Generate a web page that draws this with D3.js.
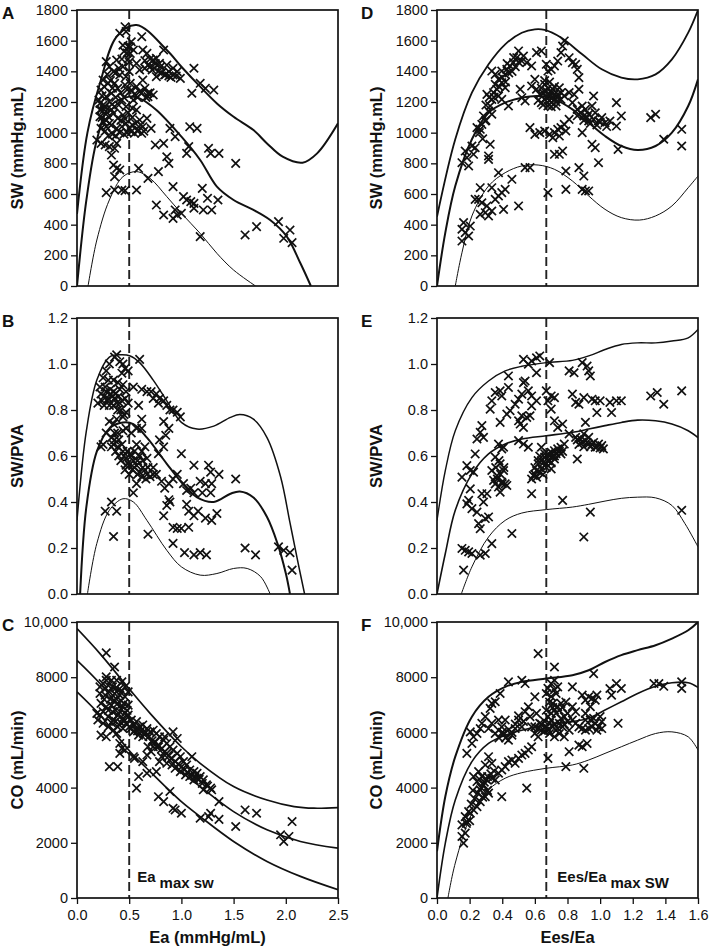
<!DOCTYPE html>
<html><head><meta charset="utf-8">
<script src="https://cdn.jsdelivr.net/npm/d3@7"></script>
<style>body{margin:0;background:#fff}text{font-family:"Liberation Sans",Arial,sans-serif;fill:#111}</style>
</head><body><svg id="c" width="709" height="950"></svg>
<script>
// ---------------- DATA ----------------
const panelIds = ["A","B","C","D","E","F"];
const yTitles = {A:"SW (mmHg.mL)",B:"SW/PVA",C:"CO (mL/min)",D:"SW (mmHg.mL)",E:"SW/PVA",F:"CO (mL/min)"};
const xTitleLeft = "Ea (mmHg/mL)";
const xTitleRight = "Ees/Ea";
const eaTicks = [0,0.5,1.0,1.5,2.0,2.5];
const eaTickLabels = ["0.0","0.5","1.0","1.5","2.0","2.5"];
const ratioTicks = [0,0.2,0.4,0.6,0.8,1.0,1.2,1.4,1.6];
const ratioTickLabels = ["0.0","0.2","0.4","0.6","0.8","1.0","1.2","1.4","1.6"];
const swTicks = [0,200,400,600,800,1000,1200,1400,1600,1800];
const swTickLabels = ["0","200","400","600","800","1000","1200","1400","1600","1800"];
const pvaTicks = [0,0.2,0.4,0.6,0.8,1.0,1.2];
const pvaTickLabels = ["0.0","0.2","0.4","0.6","0.8","1.0","1.2"];
const coTicks = [0,2000,4000,6000,8000,10000];
const coTickLabels = ["0","2000","4000","6000","8000","10,000"];
const eaMaxSW = 0.5;
const ratioMaxSW = 0.67;
const annLeft = ["Ea","max sw"];
const annRight = ["Ees/Ea","max SW"];

// Panel A: Ea vs SW
const A_pts = [[0.46,1691],[0.41,1648],[0.47,1659],[0.62,1626],[0.52,1593],[0.49,1561],[0.51,1517],[0.54,1539],[0.63,1539],[0.67,1517],[0.83,1539],[0.76,1485],[0.73,1474],[0.79,1452],[0.86,1441],[0.92,1420],[0.88,1398],[0.96,1398],[0.84,1376],[0.99,1354],[1.12,1420],[1.18,1322],[1.23,1289],[1.31,1278],[1.10,1257],[0.68,1441],[0.72,1409],[0.92,1376],[0.57,1452],[0.60,1409],[0.65,1420],[0.76,1365],
[0.28,1463],[0.31,1430],[0.38,1474],[0.35,1398],[0.25,1343],[0.30,1322],[0.36,1322],[0.41,1376],[0.44,1430],[0.23,1278],[0.28,1235],[0.33,1257],[0.39,1289],[0.46,1311],[0.22,1191],[0.27,1170],[0.31,1202],[0.36,1170],[0.43,1213],[0.47,1170],[0.22,1104],[0.25,1072],[0.30,1104],[0.35,1126],[0.39,1093],[0.44,1115],[0.23,1028],[0.28,1039],[0.33,1050],[0.38,1028],[0.43,1039],[0.47,1061],[0.52,1007],[0.55,996],[0.59,1017],[0.62,996],[0.63,1039],[0.53,1050],[0.67,1093],[0.71,1028],[0.60,1083],[0.57,1148],[0.54,1213],[0.52,1278],[0.57,1300],[0.60,1267],[0.65,1289],[0.68,1257],[0.73,1246],[0.63,1343],[0.68,1235],[0.51,1322],[0.47,1365],[0.22,1148],[0.21,1213],[0.19,952],
[0.24,1240],[0.26,1300],[0.29,1380],[0.32,1340],[0.34,1290],[0.37,1230],[0.40,1180],[0.42,1260],[0.45,1230],[0.48,1280],[0.50,1400],[0.49,1480],[0.45,1530],[0.43,1480],[0.40,1420],[0.37,1390],[0.33,1150],[0.29,1130],[0.26,1150],[0.24,1100],[0.27,1010],[0.30,980],[0.34,990],[0.37,980],[0.41,1000],[0.45,990],[0.48,1000],[0.50,1030],[0.53,1100],[0.56,1060],[0.58,1010],[0.61,1050],[0.64,1010],[0.55,1250],[0.58,1230],[0.62,1260],[0.66,1230],[0.70,1260],[0.53,1160],[0.49,1130],[0.46,1090],[0.42,1080],[0.31,1060],[0.28,1080],[0.25,1180],[0.23,1150],[0.51,1560],[0.48,1520],[0.44,1570],[0.50,1460],
[0.70,1430],[0.74,1420],[0.78,1400],[0.81,1390],[0.85,1380],[0.88,1370],[0.90,1360],[0.95,1370],[0.80,1430],[0.75,1450],[0.70,1480],[0.65,1470],
[0.27,920],[0.23,930],[0.31,909],[0.36,898],[0.38,930],[0.33,854],[0.35,789],[0.38,767],[0.36,713],[0.41,757],[0.28,609],[0.36,626],[0.43,626],[0.46,622],[0.57,626],[0.59,767],[0.68,702],[0.78,746],[0.75,920],[0.83,930],[0.86,843],[0.88,800],[0.89,1028],[0.94,974],[1.08,1039],[1.15,1028],[1.05,865],[1.07,909],[1.26,898],[1.28,865],[1.36,865],[1.52,800],
[0.92,648],[1.02,583],[1.05,561],[1.09,550],[1.12,539],[1.20,637],[1.25,572],[1.35,561],[1.21,496],[1.29,496],[1.12,507],[0.76,528],[0.83,463],[0.94,496],[0.96,463],[1.00,474],[0.92,441],[1.18,322],[1.61,333],[1.72,387],[1.93,420],[2.04,365],[1.98,311],[2.06,283]];
const A_upper = [[0,470],[0.1,1000],[0.22,1322],[0.38,1626],[0.57,1702],[0.86,1539],[1.0,1430],[1.18,1300],[1.34,1191],[1.5,1104],[1.69,1017],[1.82,930],[1.97,843],[2.16,804],[2.3,865],[2.5,1061]];
const A_mid = [[0,0],[0.09,561],[0.19,952],[0.31,1170],[0.5,1235],[0.6,1224],[0.76,1148],[1.0,974],[1.18,822],[1.34,648],[1.5,561],[1.69,496],[1.85,430],[2.01,322],[2.14,148],[2.24,0]];
const A_low = [[0.106,0],[0.19,300],[0.31,561],[0.44,713],[0.57,746],[0.7,702],[0.86,583],[1.0,474],[1.18,343],[1.34,213],[1.5,104],[1.71,0]];

// Panel B: Ea vs SW/PVA
const B_pts = [[0.38,1.04],[0.36,1.03],[0.41,1.01],[0.44,1.0],[0.46,0.98],[0.49,0.97],[0.43,0.96],[0.60,1.02],[0.31,1.0],[0.28,0.97],
[0.25,0.94],[0.30,0.93],[0.35,0.93],[0.39,0.92],[0.44,0.91],[0.22,0.90],[0.28,0.88],[0.35,0.88],[0.41,0.89],[0.47,0.88],[0.24,0.84],[0.30,0.85],[0.36,0.85],[0.41,0.83],[0.46,0.85],[0.20,0.83],[0.35,0.82],[0.39,0.80],[0.49,0.83],
[0.23,0.87],[0.26,0.86],[0.29,0.84],[0.32,0.87],[0.34,0.86],[0.37,0.87],[0.40,0.86],[0.43,0.84],[0.26,0.82],[0.31,0.82],[0.38,0.83],[0.42,0.80],[0.45,0.78],[0.32,0.89],[0.27,0.90],
[0.54,0.90],[0.62,0.89],[0.67,0.88],[0.71,0.88],[0.76,0.87],[0.79,0.85],[0.83,0.84],[0.86,0.82],[0.89,0.80],[0.92,0.80],[0.96,0.79],[0.99,0.77],[0.59,0.82],[0.73,0.85],[0.78,0.83],
[0.31,0.75],[0.35,0.74],[0.38,0.76],[0.44,0.77],[0.47,0.79],[0.28,0.70],[0.25,0.65],[0.23,0.64],[0.33,0.68],[0.36,0.67],[0.39,0.70],[0.44,0.71],[0.47,0.72],[0.52,0.70],[0.57,0.72],[0.62,0.76],[0.62,0.72],
[0.35,0.65],[0.39,0.64],[0.44,0.62],[0.47,0.59],[0.51,0.61],[0.54,0.58],[0.49,0.57],[0.46,0.54],[0.53,0.54],[0.57,0.56],[0.60,0.53],[0.63,0.55],[0.67,0.52],[0.70,0.51],[0.73,0.52],[0.62,0.62],[0.65,0.64],[0.67,0.59],[0.57,0.65],[0.73,0.55],[0.78,0.61],[0.83,0.64],[0.79,0.67],[0.85,0.69],[0.88,0.72],[0.83,0.75],[0.76,0.52],[0.81,0.49],[0.84,0.46],[0.88,0.48],[0.92,0.50],[0.96,0.52],[1.0,0.61],[1.12,0.56],[1.26,0.56],[1.28,0.53],[1.36,0.52],[1.52,0.50],
[0.40,0.60],[0.42,0.58],[0.45,0.60],[0.48,0.62],[0.50,0.56],[0.52,0.60],[0.55,0.55],[0.58,0.58],[0.60,0.60],[0.63,0.58],[0.65,0.54],[0.68,0.55],[0.50,0.52],[0.47,0.56],[0.43,0.65],[0.40,0.67],[0.37,0.62],[0.36,0.70],[0.33,0.64],[0.55,0.62],[0.58,0.52],[0.62,0.51],[0.66,0.50],
[1.02,0.48],[1.05,0.45],[1.09,0.46],[1.12,0.44],[1.18,0.49],[1.23,0.48],[1.20,0.44],[1.29,0.48],[1.28,0.44],[1.05,0.39],[1.07,0.36],[1.12,0.34],[1.16,0.36],[1.23,0.33],[1.29,0.32],[1.34,0.35],[0.88,0.41],[0.89,0.40],[0.86,0.385],[0.83,0.34],[0.92,0.29],[0.96,0.285],[1.0,0.285],[1.07,0.29],
[0.27,0.36],[0.33,0.40],[0.38,0.36],[0.35,0.25],[0.54,0.44],[0.57,0.48],[0.68,0.26],[0.92,0.22],[1.03,0.18],[1.12,0.17],[1.18,0.18],[1.24,0.17],[1.61,0.20],[1.71,0.17],[1.93,0.205],[1.98,0.19],[2.04,0.18],[2.06,0.104]];
const B_upper = [[0,0.32],[0.09,0.71],[0.19,0.93],[0.31,1.03],[0.41,1.04],[0.51,1.035],[0.60,1.006],[0.73,0.93],[0.86,0.84],[1.0,0.746],[1.15,0.717],[1.31,0.73],[1.47,0.768],[1.56,0.78],[1.69,0.76],[1.82,0.68],[1.95,0.51],[2.04,0.31],[2.12,0.13],[2.18,0]];
const B_mid = [[0.03,0],[0.09,0.38],[0.19,0.62],[0.31,0.72],[0.44,0.746],[0.54,0.739],[0.67,0.68],[0.86,0.566],[1.0,0.486],[1.15,0.42],[1.31,0.40],[1.47,0.436],[1.56,0.446],[1.69,0.42],[1.82,0.335],[1.92,0.22],[2.0,0.09],[2.04,0]];
const B_low = [[0.1,0],[0.19,0.22],[0.31,0.364],[0.44,0.414],[0.54,0.40],[0.67,0.32],[0.86,0.19],[1.0,0.118],[1.18,0.082],[1.34,0.089],[1.5,0.111],[1.63,0.111],[1.76,0.075],[1.85,0]];

// Panel C: Ea vs CO
const C_pts = [[0.28,8880],[0.28,8010],[0.36,8370],
[0.22,7650],[0.25,7770],[0.28,7890],[0.33,7890],[0.38,7890],[0.43,7830],[0.46,7650],[0.49,7470],[0.22,7410],[0.27,7350],[0.31,7470],[0.36,7410],[0.41,7350],[0.46,7290],[0.23,7050],[0.28,6930],[0.33,6990],[0.39,7050],[0.44,6930],[0.49,6990],[0.22,6630],[0.25,6750],[0.30,6570],[0.35,6450],[0.39,6630],[0.44,6510],[0.49,6630],[0.52,6450],[0.25,6330],[0.30,6200],[0.35,6080],[0.39,6200],[0.44,6140],[0.47,6330],[0.54,6270],[0.57,6390],[0.60,6200],[0.63,6270],[0.67,6140],[0.70,6020],[0.73,6080],[0.76,5960],[0.54,6020],[0.59,5900],[0.63,5840],[0.23,5900],[0.28,5840],[0.38,5960],[0.41,5600],[0.43,5420],[0.46,5360],[0.41,5240],[0.54,5120],[0.19,6690],[0.20,6450],
[0.27,7600],[0.30,7700],[0.34,7650],[0.37,7600],[0.40,7550],[0.43,7500],[0.32,7200],[0.35,7150],[0.38,7200],[0.42,7150],[0.45,7050],[0.48,6800],[0.26,7200],[0.30,6800],[0.34,6750],[0.37,6800],[0.41,6750],[0.46,6700],[0.33,6350],[0.37,6400],[0.42,6350],[0.45,6400],[0.50,6200],[0.52,6150],[0.56,6100],[0.58,6050],[0.61,6050],[0.64,5950],[0.66,6000],[0.69,5850],[0.72,5700],[0.75,5650],[0.78,5550],[0.81,5400],[0.84,5300],[0.88,5150],[0.90,5050],[0.94,4950],[0.97,4850],[1.00,4750],[1.03,4650],[1.06,4550],[1.10,4450],[1.13,4400],[1.17,4300],[1.20,4150],[1.25,4050],
[0.79,5840],[0.83,5720],[0.86,5600],[0.86,5240],[0.89,5480],[0.92,5360],[0.96,5240],[0.99,5120],[1.02,4940],[1.05,4820],[1.08,4640],[1.12,4580],[1.15,4520],[1.18,4400],[1.21,4280],[1.24,4100],[1.28,3980],[0.92,6020],[0.96,5780],[0.84,5840],[0.78,5480],[0.81,5120],[0.86,4880],[0.91,4820],[0.94,4700],[0.99,4580],[1.04,4460],[1.08,4400],[1.10,5120],[1.21,3920],[1.29,3920],[1.36,3490],[1.12,4280],[1.15,4340],
[0.59,4400],[0.57,3980],[0.67,4520],[0.76,4580],[0.63,4940],[0.67,5180],[0.71,5300],[0.73,5480],[0.68,5480],[0.79,4940],[0.55,5060],[0.31,4760],[0.39,4760],
[0.78,3670],[0.83,3490],[0.89,3860],[0.92,3250],[0.94,3190],[1.0,3070],[1.18,2890],[1.26,2950],[1.28,3070],[1.36,2850],[1.52,2590],[1.61,3190],[1.72,3070],[1.95,2290],[1.98,2050],[2.03,2230],[2.06,2770]];
const C_upper = [[0,9760],[0.22,8855],[0.51,7530],[0.70,6690],[1.0,5480],[1.18,4880],[1.5,4036],[1.82,3550],[2.08,3313],[2.27,3253],[2.5,3277]];
const C_mid = [[0,8610],[0.22,7770],[0.51,6450],[0.70,5720],[1.0,4580],[1.18,4036],[1.5,3130],[1.82,2470],[2.14,2048],[2.5,1807]];
const C_low = [[0,7470],[0.22,6630],[0.51,5300],[0.70,4580],[1.0,3490],[1.18,2950],[1.5,2048],[1.82,1325],[2.14,783],[2.5,301]];

// Panel D: Ees/Ea vs SW
const D_pts = [[0.153,804],[0.173,880],[0.183,837],[0.194,783],[0.214,913],[0.234,902],[0.224,859],
[0.245,1033],[0.265,1022],[0.275,1054],[0.296,1076],[0.285,1109],[0.306,1250],[0.326,1174],[0.336,1217],[0.347,1261],[0.357,1315],[0.367,1283],[0.336,1402],[0.357,1380],[0.377,1348],[0.397,1402],[0.418,1380],[0.428,1413],[0.448,1435],[0.469,1457],[0.489,1489],[0.50,1533],[0.52,1467],[0.53,1500],[0.55,1457],[0.58,1435],[0.61,1522],[0.64,1533],[0.397,1326],[0.418,1293],[0.377,1239],[0.438,1174],[0.397,1217],[0.316,1141],[0.336,1120],[0.52,1228],[0.54,1207],[0.51,1283],[0.58,1304],[0.60,1348],
[0.30,1180],[0.32,1230],[0.35,1230],[0.38,1300],[0.40,1360],[0.42,1330],[0.44,1390],[0.46,1400],[0.48,1430],[0.50,1460],[0.47,1490],[0.43,1450],[0.30,1080],[0.26,1000],[0.28,960],
[0.67,1446],[0.68,1402],[0.70,1413],[0.72,1435],[0.74,1467],[0.76,1522],[0.77,1565],[0.78,1598],[0.81,1489],[0.83,1457],[0.86,1413],[0.87,1359],[0.85,1446],
[0.66,1315],[0.67,1272],[0.69,1239],[0.71,1283],[0.72,1217],[0.70,1196],[0.66,1217],[0.63,1250],[0.64,1196],[0.74,1250],[0.76,1217],[0.73,1174],[0.68,1174],[0.61,1283],[0.75,1293],
[0.65,1260],[0.68,1290],[0.70,1260],[0.72,1250],[0.74,1230],[0.69,1210],[0.71,1230],[0.73,1200],[0.67,1230],[0.65,1180],[0.70,1170],[0.76,1260],[0.78,1240],[0.62,1210],[0.64,1290],[0.66,1340],[0.69,1330],[0.72,1300],
[0.81,1261],[0.84,1250],[0.83,1196],[0.86,1152],[0.89,1174],[0.91,1152],[0.93,1120],[0.95,1174],[0.97,1130],[0.96,1087],[0.99,1076],[1.01,1098],[1.03,1065],[1.06,1076],[0.93,1076],[0.90,1109],[0.89,1000],[0.96,1239],[0.87,1283],[1.10,1196],[1.13,1109],[1.10,1043],[1.31,1098],[1.34,1120],[1.39,957],[1.50,1022],[1.50,913],[1.11,891],
[0.88,1130],[0.92,1100],[0.94,1060],[0.98,1050],[1.00,1070],[1.04,1040],[0.90,1080],[0.86,1110],
[0.57,1033],[0.60,989],[0.63,1000],[0.66,1011],[0.69,989],[0.72,1000],[0.74,1022],[0.76,1033],[0.78,1054],[0.81,1087],[0.71,967],[0.75,978],[0.79,1011],
[0.72,859],[0.75,859],[0.77,880],[0.95,924],[0.97,902],[0.99,804],[0.326,924],[0.316,848],[0.377,739],[0.316,826],
[0.163,413],[0.153,370],[0.173,348],[0.194,326],[0.153,293],[0.204,391],[0.234,565],[0.265,641],[0.255,565],[0.275,543],[0.296,478],[0.265,467],[0.306,522],[0.336,641],[0.357,565],[0.377,587],[0.397,609],[0.418,630],[0.408,500],[0.459,696],[0.50,522],[0.54,772],[0.57,772],[0.68,609],[0.79,750],[0.79,630],[0.87,772],[0.90,717],[0.89,630],[0.91,620],[0.93,620],[0.316,457],[0.336,489]];
const D_upper = [[0,452],[0.112,957],[0.214,1261],[0.316,1446],[0.418,1576],[0.52,1652],[0.60,1674],[0.66,1670],[0.76,1620],[0.89,1511],[1.01,1413],[1.13,1359],[1.23,1348],[1.34,1380],[1.44,1478],[1.54,1652],[1.6,1800]];
const D_mid = [[0,0],[0.051,348],[0.112,652],[0.214,957],[0.316,1130],[0.418,1196],[0.52,1228],[0.62,1239],[0.72,1217],[0.83,1152],[0.93,1065],[1.03,978],[1.13,913],[1.23,887],[1.34,913],[1.44,1000],[1.54,1174],[1.6,1348]];
const D_low = [[0.112,0],[0.153,217],[0.214,457],[0.316,652],[0.418,739],[0.52,783],[0.62,789],[0.72,761],[0.83,685],[0.93,587],[1.03,500],[1.13,446],[1.24,430],[1.34,457],[1.44,522],[1.54,641],[1.6,717]];

// Panel E: Ees/Ea vs SW/PVA
const E_pts = [[0.153,0.508],[0.183,0.558],[0.204,0.537],[0.224,0.53],[0.204,0.457],[0.194,0.407],[0.183,0.392],[0.214,0.371],[0.245,0.356],[0.255,0.306],[0.265,0.284],[0.296,0.328],[0.316,0.335],[0.275,0.436],[0.306,0.436],[0.285,0.40],
[0.153,0.198],[0.173,0.19],[0.194,0.183],[0.214,0.176],[0.163,0.104],[0.265,0.169],[0.296,0.176],[0.336,0.219],[0.459,0.263],
[0.234,0.609],[0.245,0.674],[0.265,0.703],[0.275,0.732],[0.285,0.681],[0.326,0.804],[0.336,0.84],[0.357,0.876],[0.387,0.883],[0.438,0.948],[0.438,0.898],[0.397,0.861],[0.428,0.782],[0.448,0.797],[0.387,0.746],[0.479,0.825],[0.50,0.847],[0.52,0.869],[0.53,0.919],[0.54,0.926],[0.56,0.883],[0.58,0.861],[0.61,0.84],[0.53,1.02],[0.56,0.999],[0.58,1.013],[0.61,1.027],[0.63,1.035],[0.61,0.962],[0.52,0.775],[0.50,0.753],[0.55,0.768],[0.57,0.775],[0.58,0.818],[0.53,0.724],[0.51,0.739],
[0.67,0.883],[0.70,0.861],[0.72,0.854],[0.69,1.006],[0.68,0.84],[0.70,0.804],[0.72,0.753],[0.74,0.724],[0.77,0.739],[0.81,0.97],[0.84,0.962],[0.83,0.869],[0.85,0.833],[0.87,0.825],[0.90,0.854],[0.89,1.006],[0.92,0.991],[0.93,0.97],[0.94,0.948],[0.95,0.847],[0.97,0.84],[1.0,0.84],[0.98,0.789],[1.06,0.833],[1.07,0.789],[1.10,0.84],[1.13,0.84],[1.31,0.861],[1.35,0.876],[1.39,0.825],[1.50,0.883],[0.91,0.746],[0.58,0.436],[0.77,0.407],[0.94,0.356],[0.90,0.248],[1.50,0.364],[0.86,0.587],
[0.397,0.631],[0.377,0.652],[0.357,0.595],[0.336,0.537],[0.347,0.494],[0.367,0.515],[0.387,0.566],[0.408,0.537],[0.357,0.479],[0.377,0.465],[0.397,0.486],[0.418,0.479],[0.387,0.443],[0.428,0.472],[0.408,0.638],[0.50,0.667],[0.53,0.652],[0.56,0.638],
[0.37,0.50],[0.39,0.52],[0.41,0.55],[0.36,0.55],[0.40,0.48],[0.38,0.58],
[0.59,0.515],[0.61,0.537],[0.62,0.566],[0.64,0.58],[0.66,0.595],[0.68,0.609],[0.70,0.616],[0.72,0.623],[0.74,0.631],[0.76,0.638],[0.67,0.566],[0.69,0.58],[0.72,0.587],[0.64,0.544],[0.61,0.508],[0.78,0.652],[0.81,0.696],[0.85,0.681],[0.88,0.674],[0.91,0.667],[0.93,0.652],[0.96,0.659],[0.99,0.652],[1.01,0.645],[1.02,0.631],[0.90,0.696],[0.93,0.681],[0.97,0.638],[0.76,0.609],[0.64,0.638],[0.70,0.544],
[0.60,0.55],[0.62,0.58],[0.63,0.60],[0.65,0.57],[0.66,0.61],[0.68,0.58],[0.69,0.60],[0.71,0.60],[0.73,0.61],[0.75,0.62],[0.77,0.62],[0.63,0.53],[0.65,0.52],[0.67,0.55],[0.70,0.57],[0.72,0.60],[0.60,0.52],[0.58,0.50],
[0.86,0.67],[0.89,0.66],[0.92,0.66],[0.95,0.65],[0.98,0.64],[1.00,0.635],[0.87,0.65],[0.90,0.64],[0.94,0.64]];
const E_upper = [[0,0.32],[0.051,0.537],[0.112,0.71],[0.214,0.854],[0.316,0.926],[0.418,0.97],[0.52,0.99],[0.67,1.006],[0.83,1.016],[0.93,1.035],[1.03,1.063],[1.13,1.085],[1.23,1.092],[1.34,1.092],[1.44,1.1],[1.54,1.114],[1.6,1.15]];
const E_mid = [[0,0],[0.051,0.176],[0.112,0.364],[0.214,0.522],[0.316,0.609],[0.418,0.652],[0.52,0.674],[0.67,0.688],[0.83,0.703],[0.93,0.717],[1.03,0.732],[1.13,0.746],[1.23,0.756],[1.34,0.753],[1.44,0.739],[1.54,0.71],[1.6,0.68]];
const E_low = [[0.149,0],[0.214,0.118],[0.316,0.248],[0.418,0.32],[0.52,0.352],[0.67,0.367],[0.83,0.378],[0.93,0.39],[1.03,0.404],[1.13,0.416],[1.23,0.421],[1.34,0.418],[1.44,0.385],[1.52,0.306],[1.6,0.205]];

// Panel F: Ees/Ea vs CO
const F_pts = [[0.163,1990],[0.153,2230],[0.173,2350],[0.153,2650],[0.183,2770],[0.204,3070],[0.173,2950],[0.194,3130],[0.224,3190],[0.245,3310],[0.265,3490],[0.296,3670],[0.316,3800],[0.285,4100],[0.265,3920],[0.245,4220],[0.224,4400],[0.255,4580],[0.275,4400],[0.306,4280],[0.336,4340],[0.357,4280],[0.377,4520],[0.397,4640],[0.418,4760],[0.438,4940],[0.459,5000],[0.479,4880],[0.50,5060],[0.52,5180],[0.54,5240],[0.56,5360],[0.58,5480],[0.316,5120],[0.296,4820],[0.336,4880],[0.397,3670],[0.55,3980],[0.68,5060],[0.81,5300],[0.79,4760],[0.90,4700],[0.89,5480],[0.92,5600],[0.87,5540],
[0.21,3400],[0.23,3600],[0.25,3800],[0.27,4000],[0.29,4200],[0.31,4400],[0.33,4500],[0.35,4600],[0.22,3900],[0.26,4300],[0.28,3650],[0.31,3900],[0.18,2700],[0.20,2800],
[0.183,5240],[0.214,5600],[0.245,5960],[0.265,6140],[0.275,6330],[0.296,6570],[0.326,6870],[0.336,7050],[0.357,7110],[0.387,7410],[0.438,7830],[0.52,7890],[0.54,7770],[0.60,7290],[0.204,6020],[0.224,5840],
[0.316,6140],[0.336,6330],[0.357,5960],[0.377,6080],[0.397,6200],[0.418,6450],[0.377,6450],[0.408,5960],[0.438,5720],[0.459,5900],[0.479,6140],[0.50,6450],[0.52,6200],[0.54,6750],[0.56,6930],[0.57,6570],[0.58,6200],[0.60,5960],[0.62,5840],[0.63,6330],[0.64,6080],[0.61,6690],[0.62,8855],[0.72,8370],
[0.38,5800],[0.40,6000],[0.42,5800],[0.44,6100],[0.46,6000],[0.48,6300],[0.50,6600],[0.53,6400],
[0.67,6200],[0.69,6330],[0.71,6200],[0.73,6080],[0.75,6330],[0.77,6200],[0.68,6570],[0.70,6690],[0.72,6810],[0.74,6930],[0.76,7050],[0.71,7050],[0.73,7410],[0.70,7770],[0.72,7890],[0.74,7650],[0.67,7410],[0.69,5960],[0.72,5840],[0.75,5960],[0.78,5840],[0.81,6080],[0.83,6450],[0.85,6330],[0.87,6200],[0.89,6140],[0.91,6080],[0.93,6140],[0.95,6200],[0.97,6330],[0.99,6200],[1.01,6390],[0.91,6450],[0.94,6450],[0.96,6510],[0.98,6080],[1.0,6570],[1.01,6140],[0.83,7650],[0.89,7350],[0.91,7170],[0.93,7290],[0.95,7230],[0.97,7170],[0.98,7350],[0.94,6930],[0.91,6690],[0.96,8130],[1.07,7350],[1.06,7590],[1.10,7770],[1.13,7590],[1.11,6330],[0.83,6930],[0.85,6750],[1.33,7770],[1.36,7770],[1.39,7670],[1.50,7830],[1.50,7590],[0.78,6570],[0.80,6690],
[0.66,6400],[0.68,6100],[0.70,6450],[0.72,6300],[0.74,6150],[0.76,6500],[0.78,6300],[0.80,6400],[0.67,6800],[0.69,7100],[0.71,6900],[0.73,6700],[0.75,6800],[0.77,6900],[0.79,7100],[0.70,7300],[0.72,7550],[0.68,7600],[0.66,6050],[0.64,6300],[0.62,6150],[0.60,6200]];
const F_upper = [[0,1690],[0.051,3675],[0.112,5120],[0.214,6570],[0.316,7290],[0.418,7650],[0.52,7830],[0.67,7950],[0.83,8070],[0.93,8250],[1.03,8550],[1.13,8800],[1.23,8980],[1.34,9160],[1.44,9400],[1.54,9700],[1.6,10000]];
const F_mid = [[0,0],[0.051,1990],[0.112,3550],[0.214,4940],[0.316,5600],[0.418,5900],[0.52,6080],[0.67,6270],[0.83,6390],[0.93,6510],[1.03,6810],[1.13,7110],[1.23,7410],[1.34,7670],[1.44,7800],[1.54,7800],[1.6,7630]];
const F_low = [[0.067,0],[0.112,1265],[0.214,3070],[0.316,3920],[0.418,4340],[0.52,4540],[0.67,4700],[0.83,4820],[0.93,5000],[1.03,5240],[1.13,5480],[1.23,5720],[1.34,5960],[1.44,6020],[1.54,5840],[1.6,5360]];

// ---------------- LAYOUT / STYLE ----------------
const cols = [[77,338],[437,698]];
const rows = [[10,286],[318,594],[622,898]];
const lineW = {A:[2,2,1],B:[1.5,2,1],C:[1.7,1.7,1.7],D:[1.8,2,1],E:[1.4,1.6,1],F:[2,1.6,1]};
const annOffset = [8,11];
const tickFont = 14.5, titleFont = 16.5;

const panels = {
  A:{col:0,row:0,pts:A_pts,curves:[A_upper,A_mid,A_low],xd:[0,2.5],yd:[0,1800],xt:eaTicks,xl:eaTickLabels,yt:swTicks,yl:swTickLabels,vl:eaMaxSW},
  B:{col:0,row:1,pts:B_pts,curves:[B_upper,B_mid,B_low],xd:[0,2.5],yd:[0,1.2],xt:eaTicks,xl:eaTickLabels,yt:pvaTicks,yl:pvaTickLabels,vl:eaMaxSW},
  C:{col:0,row:2,pts:C_pts,curves:[C_upper,C_mid,C_low],xd:[0,2.5],yd:[0,10000],xt:eaTicks,xl:eaTickLabels,yt:coTicks,yl:coTickLabels,vl:eaMaxSW,bottom:true,xTitle:xTitleLeft,ann:annLeft},
  D:{col:1,row:0,pts:D_pts,curves:[D_upper,D_mid,D_low],xd:[0,1.6],yd:[0,1800],xt:ratioTicks,xl:ratioTickLabels,yt:swTicks,yl:swTickLabels,vl:ratioMaxSW},
  E:{col:1,row:1,pts:E_pts,curves:[E_upper,E_mid,E_low],xd:[0,1.6],yd:[0,1.2],xt:ratioTicks,xl:ratioTickLabels,yt:pvaTicks,yl:pvaTickLabels,vl:ratioMaxSW},
  F:{col:1,row:2,pts:F_pts,curves:[F_upper,F_mid,F_low],xd:[0,1.6],yd:[0,10000],xt:ratioTicks,xl:ratioTickLabels,yt:coTicks,yl:coTickLabels,vl:ratioMaxSW,bottom:true,xTitle:xTitleRight,ann:annRight}
};

const svg = d3.select("#c");
const defs = svg.append("defs");
const ff = '"Liberation Sans",Arial,sans-serif';

panelIds.forEach(id=>{
  const p = panels[id];
  const [x0,x1] = cols[p.col], [y0,y1] = rows[p.row];
  const x = d3.scaleLinear().domain(p.xd).range([x0,x1]);
  const y = d3.scaleLinear().domain(p.yd).range([y1,y0]);
  const g = svg.append("g");
  defs.append("clipPath").attr("id","clip"+id).append("rect")
    .attr("x",x0).attr("y",y0).attr("width",x1-x0).attr("height",y1-y0);

  const ya = g.append("g").attr("transform",`translate(${x0},0)`)
    .call(d3.axisLeft(y).tickValues(p.yt).tickFormat((d,i)=>p.yl[i]).tickSize(6).tickPadding(3));
  ya.select(".domain").remove();
  ya.selectAll("line").attr("stroke","#111").attr("stroke-width",1.3);
  ya.selectAll("text").attr("font-size",tickFont).attr("fill","#111").style("font-family",ff);

  if(p.bottom){
    const xa = g.append("g").attr("transform",`translate(0,${y1})`)
      .call(d3.axisBottom(x).tickValues(p.xt).tickFormat((d,i)=>p.xl[i]).tickSize(6).tickPadding(6));
    xa.select(".domain").remove();
    xa.selectAll("line").attr("stroke","#111").attr("stroke-width",1.3);
    xa.selectAll("text").attr("font-size",tickFont).attr("fill","#111").style("font-family",ff);
    g.append("text").attr("x",(x0+x1)/2).attr("y",943).attr("text-anchor","middle")
      .attr("font-size",titleFont).attr("font-weight","bold").text(p.xTitle);
    const t = g.append("text").attr("x",x(p.vl)+annOffset[p.col]).attr("y",y1-16).attr("font-size",15).attr("font-weight","bold");
    t.append("tspan").text(p.ann[0]);
    t.append("tspan").attr("dx",4).attr("dy",6).text(p.ann[1]);
  }

  g.append("line").attr("x1",x(p.vl)).attr("x2",x(p.vl)).attr("y1",y0).attr("y2",y1)
    .attr("stroke","#222").attr("stroke-width",1.9).attr("stroke-dasharray","9,4");

  const line = d3.line().x(d=>x(d[0])).y(d=>y(d[1])).curve(d3.curveCatmullRom.alpha(0.5));
  p.curves.forEach((c,i)=>{
    g.append("path").attr("d",line(c)).attr("fill","none").attr("stroke","#111")
      .attr("stroke-width",lineW[id][i]).attr("clip-path",`url(#clip${id})`);
  });

  g.append("g").selectAll("path").data(p.pts).join("path")
    .attr("transform",d=>`translate(${x(d[0])},${y(d[1])})`)
    .attr("d","M-4.2,-4.2L4.2,4.2M-4.2,4.2L4.2,-4.2")
    .attr("stroke","#111").attr("stroke-width",1.7).attr("fill","none");

  g.append("rect").attr("x",x0).attr("y",y0).attr("width",x1-x0).attr("height",y1-y0)
    .attr("fill","none").attr("stroke","#111").attr("stroke-width",1.7);

  const tx = p.col===0 ? 17 : 376;
  g.append("text").attr("transform",`translate(${tx},${(y0+y1)/2}) rotate(-90)`)
    .attr("text-anchor","middle").attr("dominant-baseline","central")
    .attr("font-size",titleFont).attr("font-weight","bold").text(yTitles[id]);

  g.append("text").attr("x",p.col===0?2:361).attr("y",y0+9).attr("font-size",17).attr("font-weight","bold").text(id);
});
</script></body></html>
